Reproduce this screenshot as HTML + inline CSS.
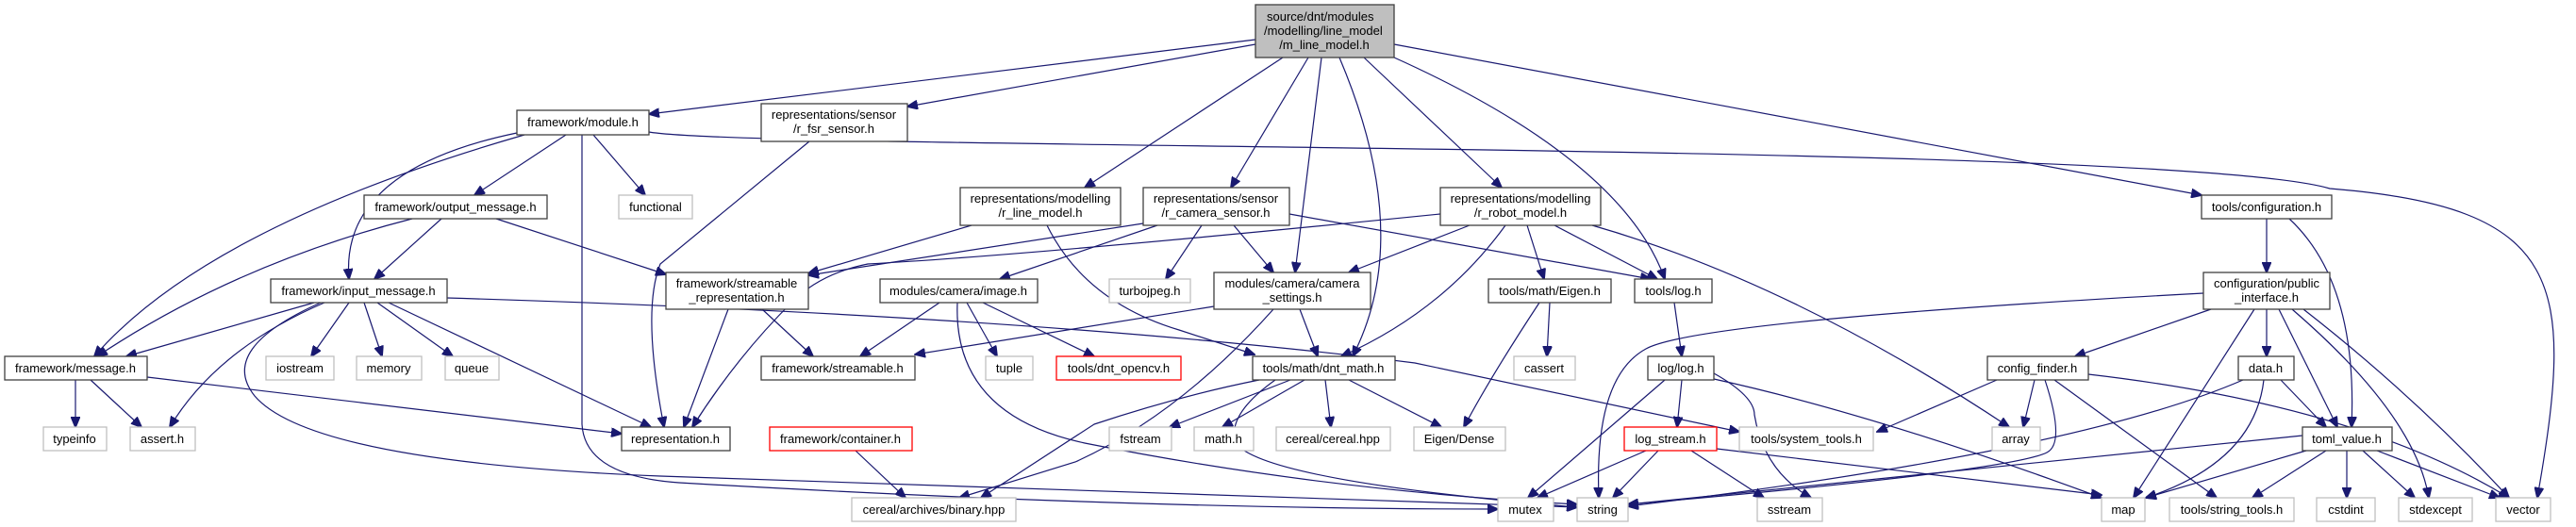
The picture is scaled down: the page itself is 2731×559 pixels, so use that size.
<!DOCTYPE html>
<html><head><meta charset="utf-8"><style>
html,body{margin:0;padding:0;background:#fff;}
svg{display:block;}
text{font-family:"Liberation Sans",sans-serif;font-size:13px;fill:#000;}
.n{fill:#fff;stroke:#404040;stroke-width:1.3;}
.g{fill:#fff;stroke:#bfbfbf;stroke-width:1.3;}
.r{fill:#fff;stroke:#ff0000;stroke-width:1.3;}
path{fill:none;stroke:#191970;stroke-width:1.2;}
</style></head><body>
<svg width="2731" height="559" viewBox="0 0 2731 559" xmlns="http://www.w3.org/2000/svg">
<defs><marker id="a" markerUnits="userSpaceOnUse" markerWidth="12" markerHeight="10" refX="11" refY="5" orient="auto"><path d="M0,0 L12,5 L0,10 z" style="fill:#191970;stroke:#191970;stroke-width:1"/></marker></defs>
<g marker-end="url(#a)">
<path d="M1331,42 L688,121"/>
<path d="M1331,47 L962,113"/>
<path d="M1360,61 L1150,199"/>
<path d="M1387,61 L1305,199"/>
<path d="M1401,61 L1373,289"/>
<path d="M1420,61 Q1500,250 1434,378"/>
<path d="M1446,61 L1592,199"/>
<path d="M1478,61 Q1720,170 1765,296"/>
<path d="M1478,47 L2334,207"/>
<path d="M600,143 L503,207"/>
<path d="M629,143 L684,207"/>
<path d="M548,141 Q360,180 370,296"/>
<path d="M556,143 Q220,240 100,378"/>
<path d="M617,143 L617,450 Q620,505 720,512 Q1200,540 1588,540"/>
<path d="M688,140 C800,160 2300,150 2470,200 C2720,220 2730,300 2690,528"/>
<path d="M437,232 Q250,280 103,378"/>
<path d="M468,232 L397,296"/>
<path d="M526,232 L706,291"/>
<path d="M333,321 L134,378"/>
<path d="M344,321 Q230,370 180,453"/>
<path d="M370,321 L330,378"/>
<path d="M386,321 L405,378"/>
<path d="M400,321 L480,378"/>
<path d="M412,321 L690,453"/>
<path d="M340,321 Q230,370 270,420 Q330,490 700,505 L1672,538"/>
<path d="M474,316 Q1100,335 1500,385 L1844,458"/>
<path d="M80,403 L80,453"/>
<path d="M96,403 L150,453"/>
<path d="M156,400 L659,460"/>
<path d="M858,150 L700,280 Q680,330 704,453"/>
<path d="M772,328 L725,453"/>
<path d="M808,328 L862,378"/>
<path d="M1030,239 L857,290"/>
<path d="M1110,239 Q1150,320 1250,350 L1330,376"/>
<path d="M1212,237 L857,292"/>
<path d="M1227,239 L1060,296"/>
<path d="M1274,239 L1236,296"/>
<path d="M1308,239 L1350,289"/>
<path d="M1367,227 L1750,296"/>
<path d="M1527,227 Q1100,270 920,280 Q870,290 840,320 Q780,380 734,453"/>
<path d="M1558,239 L1430,289"/>
<path d="M1596,239 Q1530,330 1422,378"/>
<path d="M1619,239 L1637,296"/>
<path d="M1648,239 L1757,296"/>
<path d="M1688,239 Q1900,300 2130,453"/>
<path d="M996,321 L912,378"/>
<path d="M1025,321 L1057,378"/>
<path d="M1042,321 L1160,378"/>
<path d="M1015,321 Q1010,440 1150,470 Q1400,520 1672,535"/>
<path d="M1287,325 L970,376"/>
<path d="M1378,328 L1397,378"/>
<path d="M1350,328 Q1250,440 1140,490 L1017,528"/>
<path d="M1368,403 L1240,453"/>
<path d="M1383,403 L1296,453"/>
<path d="M1405,403 L1411,453"/>
<path d="M1430,403 L1528,453"/>
<path d="M1335,403 Q1250,420 1160,450 L1040,528"/>
<path d="M1352,403 Q1300,440 1310,470 Q1340,510 1672,538"/>
<path d="M1643,321 L1640,378"/>
<path d="M1632,321 Q1580,400 1552,453"/>
<path d="M1775,321 L1783,378"/>
<path d="M1783,403 L1778,453"/>
<path d="M1765,403 L1620,528"/>
<path d="M1817,396 Q1860,420 1860,440 Q1870,500 1920,528"/>
<path d="M1817,402 Q1990,440 2228,528"/>
<path d="M1745,478 L1630,528"/>
<path d="M1758,478 L1710,528"/>
<path d="M1793,478 L1870,528"/>
<path d="M1820,476 L2228,525"/>
<path d="M907,478 L960,528"/>
<path d="M2336,311 Q1800,340 1745,370 Q1690,400 1695,528"/>
<path d="M2344,328 L2200,378"/>
<path d="M2390,328 L2262,528"/>
<path d="M2403,328 L2403,378"/>
<path d="M2416,328 L2478,453"/>
<path d="M2430,328 Q2560,440 2575,528"/>
<path d="M2442,328 Q2560,420 2660,528"/>
<path d="M2157,403 L2145,453"/>
<path d="M2117,403 L1990,458"/>
<path d="M2168,403 Q2190,470 2170,480 Q2130,500 1726,535"/>
<path d="M2178,403 L2350,528"/>
<path d="M2214,397 Q2500,430 2660,528"/>
<path d="M2378,403 Q2200,480 1726,537"/>
<path d="M2400,403 Q2390,490 2275,528"/>
<path d="M2418,403 L2466,453"/>
<path d="M2441,462 L1726,535"/>
<path d="M2445,478 L2275,528"/>
<path d="M2466,478 L2388,528"/>
<path d="M2488,478 L2488,528"/>
<path d="M2505,478 L2560,528"/>
<path d="M2520,478 L2650,528"/>
<path d="M2403,232 L2403,289"/>
<path d="M2427,232 Q2500,300 2493,453"/>
</g>

<rect x="1331" y="5" width="147" height="56" style="fill:#bfbfbf;stroke:#404040;stroke-width:1.3"/>
<text x="1343" y="22">source/dnt/modules</text>
<text x="1340" y="37">/modelling/line_model</text>
<text x="1404" y="52" text-anchor="middle">/m_line_model.h</text>

<g text-anchor="middle">
<rect class="n" x="548" y="117" width="140" height="26"/><text x="618" y="134">framework/module.h</text>
<rect class="n" x="807" y="110" width="155" height="40"/><text x="884" y="126">representations/sensor</text><text x="884" y="141">/r_fsr_sensor.h</text>

<rect class="n" x="386" y="207" width="194" height="25"/><text x="483" y="224">framework/output_message.h</text>
<rect class="g" x="656" y="207" width="78" height="25"/><text x="695" y="224">functional</text>
<rect class="n" x="1018" y="199" width="170" height="40"/><text x="1103" y="215">representations/modelling</text><text x="1103" y="230">/r_line_model.h</text>
<rect class="n" x="1212" y="199" width="155" height="40"/><text x="1289" y="215">representations/sensor</text><text x="1289" y="230">/r_camera_sensor.h</text>
<rect class="n" x="1527" y="199" width="170" height="40"/><text x="1612" y="215">representations/modelling</text><text x="1612" y="230">/r_robot_model.h</text>
<rect class="n" x="2334" y="207" width="138" height="25"/><text x="2403" y="224">tools/configuration.h</text>

<rect class="n" x="287" y="296" width="187" height="25"/><text x="380" y="313">framework/input_message.h</text>
<rect class="n" x="706" y="289" width="151" height="39"/><text x="781" y="305">framework/streamable</text><text x="781" y="320">_representation.h</text>
<rect class="n" x="933" y="296" width="167" height="25"/><text x="1016" y="313">modules/camera/image.h</text>
<rect class="g" x="1176" y="296" width="86" height="25"/><text x="1219" y="313">turbojpeg.h</text>
<rect class="n" x="1287" y="289" width="166" height="39"/><text x="1370" y="305">modules/camera/camera</text><text x="1370" y="320">_settings.h</text>
<rect class="n" x="1578" y="296" width="130" height="25"/><text x="1643" y="313">tools/math/Eigen.h</text>
<rect class="n" x="1733" y="296" width="82" height="25"/><text x="1774" y="313">tools/log.h</text>
<rect class="n" x="2336" y="289" width="134" height="39"/><text x="2403" y="305">configuration/public</text><text x="2403" y="320">_interface.h</text>

<rect class="n" x="5" y="378" width="151" height="25"/><text x="80" y="395">framework/message.h</text>
<rect class="g" x="282" y="378" width="72" height="25"/><text x="318" y="395">iostream</text>
<rect class="g" x="378" y="378" width="69" height="25"/><text x="412" y="395">memory</text>
<rect class="g" x="472" y="378" width="57" height="25"/><text x="500" y="395">queue</text>
<rect class="n" x="807" y="378" width="163" height="25"/><text x="888" y="395">framework/streamable.h</text>
<rect class="g" x="1045" y="378" width="50" height="25"/><text x="1070" y="395">tuple</text>
<rect class="r" x="1120" y="378" width="132" height="25"/><text x="1186" y="395">tools/dnt_opencv.h</text>
<rect class="n" x="1328" y="378" width="151" height="25"/><text x="1403" y="395">tools/math/dnt_math.h</text>
<rect class="g" x="1605" y="378" width="65" height="25"/><text x="1637" y="395">cassert</text>
<rect class="n" x="1747" y="378" width="70" height="25"/><text x="1782" y="395">log/log.h</text>
<rect class="n" x="2107" y="378" width="107" height="25"/><text x="2160" y="395">config_finder.h</text>
<rect class="n" x="2373" y="378" width="59" height="25"/><text x="2402" y="395">data.h</text>

<rect class="g" x="46" y="453" width="67" height="25"/><text x="79" y="470">typeinfo</text>
<rect class="g" x="138" y="453" width="69" height="25"/><text x="172" y="470">assert.h</text>
<rect class="n" x="659" y="453" width="115" height="25"/><text x="716" y="470">representation.h</text>
<rect class="r" x="816" y="453" width="151" height="25"/><text x="891" y="470">framework/container.h</text>
<rect class="g" x="1176" y="453" width="66" height="25"/><text x="1209" y="470">fstream</text>
<rect class="g" x="1266" y="453" width="63" height="25"/><text x="1297" y="470">math.h</text>
<rect class="g" x="1353" y="453" width="121" height="25"/><text x="1413" y="470">cereal/cereal.hpp</text>
<rect class="g" x="1499" y="453" width="97" height="25"/><text x="1547" y="470">Eigen/Dense</text>
<rect class="r" x="1722" y="453" width="98" height="25"/><text x="1771" y="470">log_stream.h</text>
<rect class="g" x="1844" y="453" width="142" height="25"/><text x="1915" y="470">tools/system_tools.h</text>
<rect class="g" x="2112" y="453" width="51" height="25"/><text x="2137" y="470">array</text>
<rect class="n" x="2441" y="453" width="95" height="25"/><text x="2488" y="470">toml_value.h</text>

<rect class="g" x="903" y="528" width="174" height="25"/><text x="990" y="545">cereal/archives/binary.hpp</text>
<rect class="g" x="1588" y="528" width="59" height="25"/><text x="1617" y="545">mutex</text>
<rect class="g" x="1672" y="528" width="54" height="25"/><text x="1699" y="545">string</text>
<rect class="g" x="1863" y="528" width="69" height="25"/><text x="1897" y="545">sstream</text>
<rect class="g" x="2228" y="528" width="46" height="25"/><text x="2251" y="545">map</text>
<rect class="g" x="2300" y="528" width="132" height="25"/><text x="2366" y="545">tools/string_tools.h</text>
<rect class="g" x="2456" y="528" width="62" height="25"/><text x="2487" y="545">cstdint</text>
<rect class="g" x="2543" y="528" width="78" height="25"/><text x="2582" y="545">stdexcept</text>
<rect class="g" x="2646" y="528" width="58" height="25"/><text x="2675" y="545">vector</text>
</g>
</svg>
</body></html>
